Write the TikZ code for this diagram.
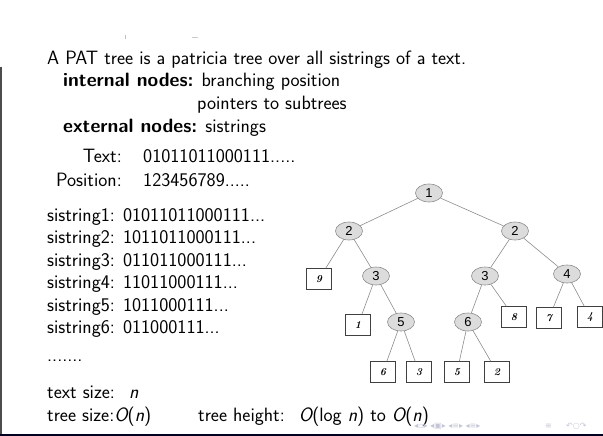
\documentclass[tikz,border=0pt]{standalone}
\usepackage{fontspec}
\newfontfamily\treefont{Liberation Sans}
\newfontfamily\symfont{DejaVu Sans}
\usetikzlibrary{shapes.geometric}
\definecolor{inner}{HTML}{DCDCDC}
\definecolor{edgegray}{HTML}{8C8C8C}
\definecolor{navgray}{HTML}{C4C6D6}
\newcommand{\vr}[1]{{\itshape #1}}
\begin{document}
\begin{tikzpicture}[x=1pt,y=-1pt,
  txt/.style={anchor=base west,inner sep=0pt,font=\sffamily\fontsize{19.3}{23}\selectfont},
  txtr/.style={txt,anchor=base east},
  inode/.style={ellipse,draw=edgegray,fill=inner,line width=0.6pt,minimum width=27pt,minimum height=18pt,inner sep=0pt,font=\treefont\fontsize{13}{14}\selectfont},
  leaf/.style={rectangle,draw=black!75,line width=0.6pt,minimum width=25pt,minimum height=21pt,inner sep=0pt,font=\rmfamily\itshape\bfseries\fontsize{10.5}{12}\selectfont},
  branch/.style={draw=edgegray,line width=0.6pt},
  nav/.style={anchor=base west,inner sep=0pt,text=navgray,font=\symfont\fontsize{8}{9}\selectfont}]
\useasboundingbox (0,0) rectangle (603,436);

% frame edges
\draw[black!70,line width=1.5pt] (1,67) -- (1,436);
\draw[black!70!blue!40!black,line width=2pt] (0,435) -- (603,435);
\draw[black!25,line width=0.8pt] (125,35) -- (125,39);
\draw[black!20,line width=0.8pt] (192,37) -- (198,37);

% heading and node kinds
\node[txt] (intro) at (47,65) {A PAT tree is a patricia tree over all sistrings of a text.};
\node[txt] (internal) at (63,87) {\textbf{internal nodes:} branching position};
\node[txt] (pointers) at (197,110) {pointers to subtrees};
\node[txt] (external) at (63,132) {\textbf{external nodes:} sistrings};

% text and positions
\node[txtr] (textlbl) at (122,162) {Text:};
\node[txt] (textval) at (143,162) {01011011000111.....};
\node[txtr] (poslbl) at (122,186) {Position:};
\node[txt] (posval) at (143,186) {123456789.....};

% semi-infinite strings
\node[txt] (s1) at (47,221) {sistring1: 01011011000111...};
\node[txt] (s2) at (47,243.5) {sistring2: 1011011000111...};
\node[txt] (s3) at (47,266) {sistring3: 011011000111...};
\node[txt] (s4) at (47,288.5) {sistring4: 11011000111...};
\node[txt] (s5) at (47,311) {sistring5: 1011000111...};
\node[txt] (s6) at (47,333.5) {sistring6: 011000111...};
\node[txt] (sdots) at (47,361) {.......};

% sizes
\node[txt] (tsize) at (47,398) {text size: \ \vr{n}};
\node[txt] (trsize) at (47,421) {tree size:\vr{O}(\vr{n})};
\node[txt] (theight) at (198,421) {tree height: \ \vr{O}(log \vr{n}) to \vr{O}(\vr{n})};

% internal nodes (branching positions)
\node[inode] (r)   at (429,193) {1};
\node[inode] (a)   at (349,231) {2};
\node[inode] (b)   at (515,231) {2};
\node[inode] (a3)  at (376,276) {3};
\node[inode] (b3)  at (485,276) {3};
\node[inode] (b4)  at (567,274) {4};
\node[inode] (a5)  at (401,322) {5};
\node[inode] (b6)  at (468,322) {6};

% external nodes (sistring numbers)
\node[leaf] (l9) at (319,279) {9};
\node[leaf] (l1) at (358,325) {1};
\node[leaf] (l6) at (383,372) {6};
\node[leaf] (l3) at (419,372) {3};
\node[leaf] (l5) at (457,372) {5};
\node[leaf] (l2) at (497,372) {2};
\node[leaf] (l8) at (514,317) {8};
\node[leaf] (l7) at (549,318) {7};
\node[leaf] (l4) at (590,317) {4};

% branches
\draw[branch] (r) -- (a);
\draw[branch] (r) -- (b);
\draw[branch] (a) -- (l9);
\draw[branch] (a) -- (a3);
\draw[branch] (a3) -- (l1);
\draw[branch] (a3) -- (a5);
\draw[branch] (a5) -- (l6);
\draw[branch] (a5) -- (l3);
\draw[branch] (b) -- (b3);
\draw[branch] (b) -- (b4);
\draw[branch] (b3) -- (b6);
\draw[branch] (b3) -- (l8);
\draw[branch] (b6) -- (l5);
\draw[branch] (b6) -- (l2);
\draw[branch] (b4) -- (l7);
\draw[branch] (b4) -- (l4);

% navigation symbols
\node[nav] (nav1) at (414,428) {◂▫▸ ◂▣▸ ◂≡▸ ◂≡▸};
\node[nav] (nav2) at (545,428) {≡};
\node[nav] (nav3) at (566,428) {↶○↷};
\end{tikzpicture}
\end{document}
